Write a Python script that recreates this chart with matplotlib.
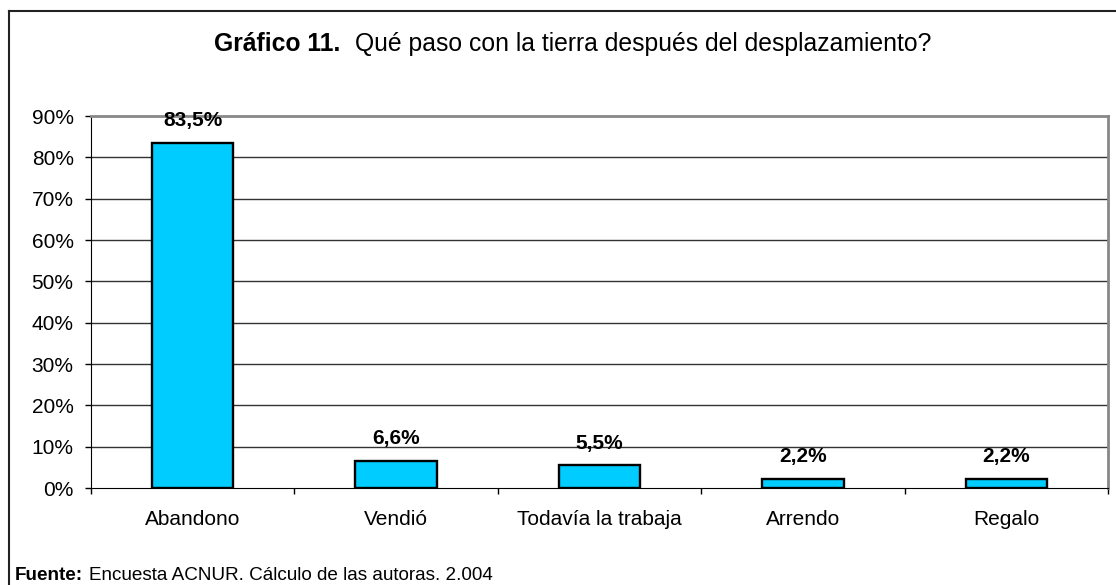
import matplotlib.pyplot as plt
import numpy as np
from matplotlib.lines import Line2D

plt.rcParams['font.family'] = ['Liberation Sans', 'DejaVu Sans']

categorias = ['Abandono', 'Vendió', 'Todavía la trabaja', 'Arrendo', 'Regalo']
valores = [83.5, 6.6, 5.5, 2.2, 2.2]
etiquetas = ['83,5%', '6,6%', '5,5%', '2,2%', '2,2%']
ticks_y = [0, 10, 20, 30, 40, 50, 60, 70, 80, 90]

fig = plt.figure(figsize=(11.16, 5.85), dpi=100)
ax = fig.add_axes([91/1116, 1-488/585, (1108-91)/1116, (488-116)/585])

x = np.arange(len(categorias))
ax.bar(x, valores, width=0.4, color='#00CCFF', edgecolor='black', linewidth=1.7, zorder=3)

ax.set_xlim(-0.5, len(categorias)-0.5)
ax.set_ylim(0, 90)
ax.set_yticks(ticks_y)
ax.set_yticklabels([f'{t}%' for t in ticks_y], fontsize=15)
ax.set_xticks(x)
ax.set_xticklabels(categorias, fontsize=15)
ax.tick_params(axis='x', length=0, pad=16)
ax.set_xticks(np.arange(-0.5, len(categorias)), minor=True)
ax.tick_params(axis='x', which='minor', length=4.5, width=1, direction='out')
ax.tick_params(axis='y', length=4.5, width=1, direction='out', pad=8)

for yv in ticks_y[1:-1]:
    ax.axhline(yv, color='#333333', linewidth=1, zorder=1)

ax.spines['left'].set_color('black')
ax.spines['bottom'].set_color('black')
ax.spines['top'].set_color('#888888')
ax.spines['right'].set_color('#888888')
ax.spines['top'].set_linewidth(2)
ax.spines['right'].set_linewidth(2)

for xi, v, lab in zip(x, valores, etiquetas):
    ax.annotate(lab, (xi, v), xytext=(0, 9), textcoords='offset points',
                ha='center', va='bottom', fontsize=15, fontweight='bold')

fig.text(214/1116, 1-44/585, 'Gráfico 11.', fontsize=17.8, fontweight='bold', ha='left', va='center')
fig.text(355/1116, 1-44/585, 'Qué paso con la tierra después del desplazamiento?', fontsize=17.8,
         ha='left', va='center')

fig.text(15/1116, 1-575/585, 'Fuente:', fontsize=13.6, fontweight='bold', ha='left', va='center')
fig.text(89/1116, 1-575/585, 'Encuesta ACNUR. Cálculo de las autoras. 2.004', fontsize=13.6,
         ha='left', va='center')

fig.add_artist(Line2D([9/1116, 9/1116], [0, 1-11/585], transform=fig.transFigure,
                      color='#222222', linewidth=1.5))
fig.add_artist(Line2D([9/1116, 1], [1-11/585, 1-11/585], transform=fig.transFigure,
                      color='#222222', linewidth=1.5))

fig.savefig('out.png', dpi=100)
